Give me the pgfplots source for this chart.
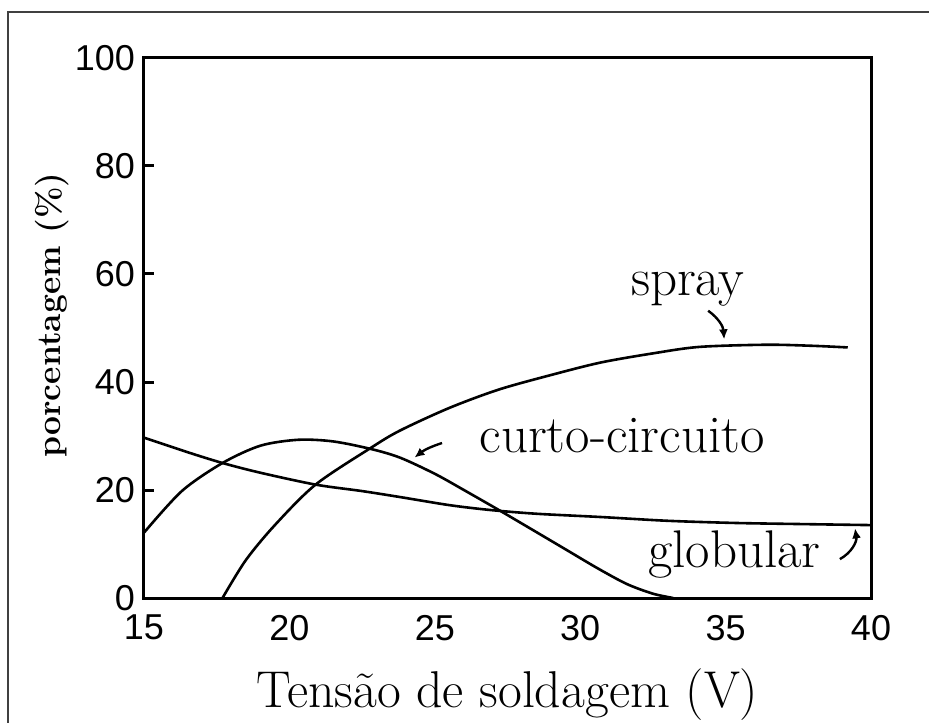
\documentclass[border=0pt]{standalone}
\usepackage{fontspec}
\newfontfamily\tickfont{Liberation Sans}
\usepackage{pgfplots}
\pgfplotsset{compat=1.18}
\usetikzlibrary{arrows.meta}
\begin{document}
\begin{tikzpicture}
\path[use as bounding box] (-72pt,-62pt) rectangle (392.5pt,299pt);
\draw[line width=0.9pt, black!75] (-68pt,-70pt) -- (-68pt,293pt) -- (400pt,293pt);
\begin{axis}[
  at={(0,0)}, anchor=south west,
  scale only axis, width=363.5pt, height=270pt,
  xmin=15, xmax=40, ymin=0, ymax=100,
  xtick={15,20,...,40}, ytick={0,20,...,100},
  axis line style={line width=1.5pt},
  tick align=inside, ytick pos=left, xtick pos=bottom,
  xtick style={draw=none},
  ytick style={line width=1.5pt, black},
  major tick length=5pt,
  ticklabel style={font=\tickfont\fontsize{18}{20}\selectfont},
  /pgf/number format/assume math mode=true,
  xticklabel style={yshift=-5pt},
  yticklabel style={xshift=-1pt},
  xlabel={Tensão de soldagem (V)},
  xlabel style={at={(axis description cs:0.5,0)}, anchor=base, yshift=-54.5pt, font=\fontsize{25.9}{30}\selectfont},
  ylabel={porcentagem (\%)},
  ylabel style={at={(axis description cs:-0.127,0.524)}, anchor=center, font=\bfseries\fontsize{16.8}{20}\selectfont},
  clip=false
]
% globular
\addplot[black, line width=1.3pt, smooth] coordinates {(15,29.7) (16.5,27) (17.7,25) (19,23.2) (20.9,21) (22.5,19.8) (23.8,18.7) (25.5,17.2) (26.9,16.3) (28.5,15.6) (30.7,15) (33,14.3) (35.3,13.9) (37.5,13.7) (40,13.5)};
% curto-circuito
\addplot[black, line width=1.3pt, smooth] coordinates {(15,12.1) (16.3,19.8) (17.7,25) (19,28.2) (20.3,29.3) (21.5,29) (22.8,27.6) (23.8,26) (25,23) (26,20) (27.2,16.3) (28.4,12.5) (29.5,9) (30.6,5.5) (31.6,2.6) (32.5,0.8) (33.2,0)};
% spray
\addplot[black, line width=1.3pt, smooth] coordinates {(17.7,0) (18.5,7) (19.5,13.5) (20.9,21) (22.8,27.8) (23.8,31) (25.5,35.2) (27.2,38.6) (29,41.3) (30.7,43.6) (32.5,45.3) (34.1,46.5) (36.4,46.9) (38,46.7) (39.2,46.4)};

\node[anchor=base, font=\fontsize{26.5}{30}\selectfont] at (axis cs:33.7,56.1) {spray};
\node[anchor=base, font=\fontsize{26.5}{30}\selectfont] at (axis cs:31.44,26.9) {curto-circuito};
\node[anchor=base, font=\fontsize{26.5}{30}\selectfont] at (axis cs:35.3,5.6) {globular};

\draw[-{Latex[length=5pt,width=4.5pt]}, line width=1.2pt] (axis cs:34.4,53.2) to[bend left=25] (axis cs:34.95,47.9);
\draw[-{Latex[length=5pt,width=4.5pt]}, line width=1.2pt] (axis cs:25.25,28.7) to[bend right=10] (axis cs:24.3,26);
\draw[-{Latex[length=5pt,width=4.5pt]}, line width=1.2pt] (axis cs:38.93,7.2) to[bend right=35] (axis cs:39.45,12.9);
\end{axis}
\end{tikzpicture}
\end{document}
